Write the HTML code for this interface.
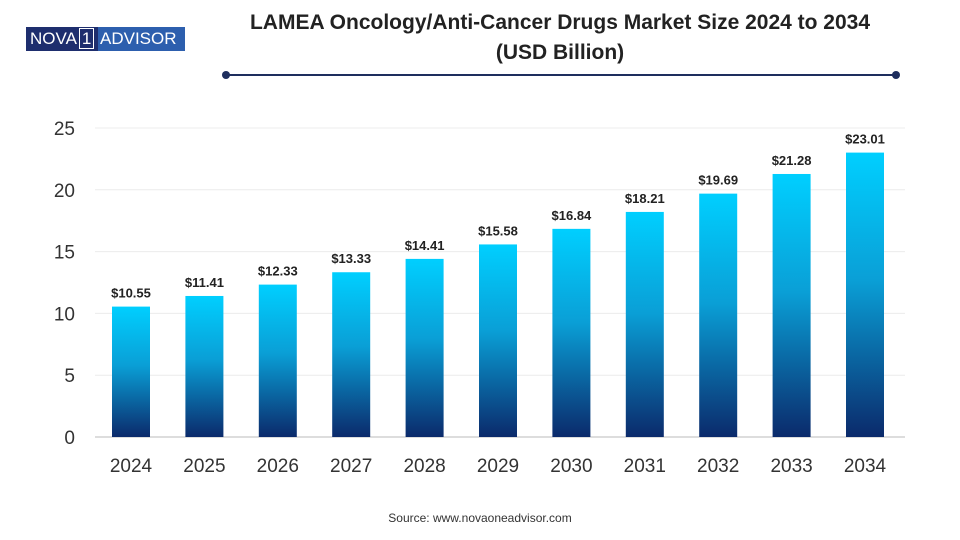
<!DOCTYPE html>
<html><head><meta charset="utf-8"><style>
body{margin:0;width:960px;height:540px;background:#fff;font-family:"Liberation Sans",sans-serif;overflow:hidden;position:relative}
#logo{position:absolute;left:26px;top:27px;width:159px;height:24px;display:flex}
#logo .a{background:#1e2e6e;width:72px;color:#fff;font-size:17px;line-height:24px;padding-left:4px;box-sizing:border-box}
#logo .b{background:#2d5fae;flex:1;color:#fff;font-size:17px;line-height:24px;padding-left:2px}
#title{position:absolute;left:200px;width:720px;top:8px;text-align:center;font-weight:bold;font-size:21px;line-height:30px;color:#222}
#src{position:absolute;left:0;width:960px;top:511px;text-align:center;font-size:12px;color:#333}
</style></head><body>
<div id="logo"><div class="a">NOVA<span style="border:1px solid #fff;padding:0 2px;margin-left:2px">1</span></div><div class="b">ADVISOR</div></div>
<div id="title">LAMEA Oncology/Anti-Cancer Drugs Market Size 2024 to 2034<br>(USD Billion)</div>
<svg width="960" height="540" style="position:absolute;left:0;top:0">
<defs><linearGradient id="g" x1="0" y1="0" x2="0" y2="1"><stop offset="0" stop-color="#00cfff"/><stop offset="0.45" stop-color="#0a9fd6"/><stop offset="1" stop-color="#0b2a6b"/></linearGradient></defs>
<line x1="226" y1="75" x2="896" y2="75" stroke="#1e2e5e" stroke-width="2"/>
<circle cx="226" cy="75" r="4" fill="#1e2e5e"/><circle cx="896" cy="75" r="4" fill="#1e2e5e"/>
<g id="grid"></g><g id="bars"></g>
</svg>
<div id="src">Source: www.novaoneadvisor.com</div>
<script>
const categories=["2024","2025","2026","2027","2028","2029","2030","2031","2032","2033","2034"];
const values=[10.55,11.41,12.33,13.33,14.41,15.58,16.84,18.21,19.69,21.28,23.01];
const yTicks=[0,5,10,15,20,25];
const ns="http://www.w3.org/2000/svg";
const y=v=>437-v*12.36;
const x=i=>131+i*73.4;
const grid=document.getElementById('grid'),bars=document.getElementById('bars');
function mk(t,a,p){const e=document.createElementNS(ns,t);for(const k in a)e.setAttribute(k,a[k]);p.appendChild(e);return e;}
yTicks.forEach(t=>{
 const l=mk('line',{x1:95,x2:905,y1:y(t),y2:y(t),stroke:t?'#ececec':'#bbb','stroke-width':1},grid);
 
 
 const tx=mk('text',{x:75,y:y(t)+7,'text-anchor':'end','font-size':19,fill:'#333'},grid);tx.textContent=t;
 
 
});
values.forEach((v,i)=>{
 const r=mk('rect',{x:x(i)-19,y:y(v),width:38,height:437-y(v),fill:'url(#g)'},bars);
 
 
 const lb=mk('text',{x:x(i),y:y(v)-9,'text-anchor':'middle','font-size':13,'font-weight':'bold',fill:'#222'},bars);lb.textContent='$'+v.toFixed(2);
 
 
 const c=mk('text',{x:x(i),y:472,'text-anchor':'middle','font-size':19,fill:'#333'},bars);c.textContent=categories[i];
 
 
});
</script>
</body></html>
